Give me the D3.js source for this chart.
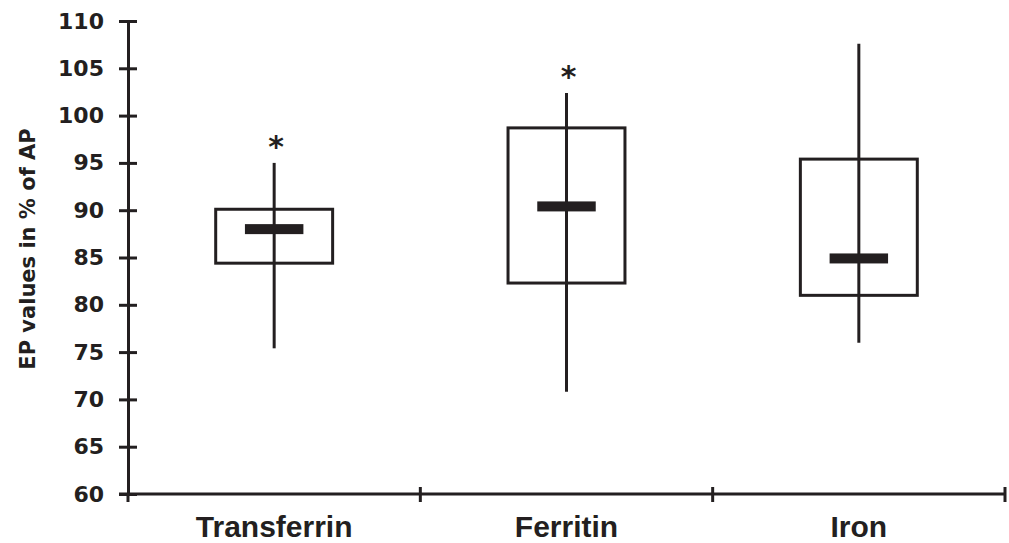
<!DOCTYPE html>
<html>
<head>
<meta charset="utf-8">
<script src="https://cdn.jsdelivr.net/npm/d3@7"></script>
<style>
  body { margin: 0; background: #fff; }
  svg { display: block; }
</style>
</head>
<body>
<main></main>
<script>
  // values
  const categories = ["Transferrin", "Ferritin", "Iron"];
  const whiskerLow = [75.4, 70.8, 76.0];
  const boxLow = [84.4, 82.3, 81.0];
  const medians = [88.0, 90.4, 84.9];
  const boxHigh = [90.1, 98.7, 95.4];
  const whiskerHigh = [95.0, 102.4, 107.6];
  const marked = [true, true, false];
  const yTicks = [60, 65, 70, 75, 80, 85, 90, 95, 100, 105, 110];

  const data = categories.map((c, i) => ({
    name: c,
    lo: whiskerLow[i],
    q1: boxLow[i],
    med: medians[i],
    q3: boxHigh[i],
    hi: whiskerHigh[i],
    star: marked[i]
  }));

  const W = 1009;
  const H = 543;
  const plotLeft = 128, plotTop = 21, plotRight = 1005, plotBottom = 494;
  const ink = "#231f20";

  const svg = d3
    .select("main")
    .append("svg")
    .attr("width", W)
    .attr("height", H);

  const xScale = d3
    .scaleBand()
    .domain(categories)
    .range([plotLeft, plotRight])
    .padding(0);

  const yScale = d3
    .scaleLinear()
    .domain([60, 110])
    .range([plotBottom, plotTop]);

  // y axis, ticks crossing the line
  const yAxis = svg
    .append("g")
    .attr("transform", `translate(${plotLeft},0)`)
    .call(
      d3.axisLeft(yScale)
        .tickValues(yTicks)
        .tickSize(9)
        .tickSizeOuter(0)
        .tickPadding(15)
    );
  yAxis.select(".domain").attr("stroke", ink).attr("stroke-width", 3);
  yAxis.selectAll(".tick line").attr("x1", 9).attr("stroke", ink).attr("stroke-width", 3);
  yAxis
    .selectAll(".tick text")
    .attr("fill", ink)
    .style("font-family", "'DejaVu Sans', Verdana, sans-serif")
    .style("font-weight", "bold")
    .style("font-size", "22px");

  // x axis line
  svg
    .append("line")
    .attr("x1", plotLeft - 9)
    .attr("x2", plotRight)
    .attr("y1", plotBottom)
    .attr("y2", plotBottom)
    .attr("stroke", ink)
    .attr("stroke-width", 3);

  // x ticks at band edges
  const edges = categories.map(c => xScale(c)).concat([xScale.range()[1]]);
  svg
    .selectAll(".xtick")
    .data(edges)
    .enter()
    .append("line")
    .attr("class", "xtick")
    .attr("x1", d => d)
    .attr("x2", d => d)
    .attr("y1", (d, i) => (i === 0 ? plotBottom - 1 : plotBottom - 7))
    .attr("y2", plotBottom + 8)
    .attr("stroke", ink)
    .attr("stroke-width", 3);

  // category labels
  svg
    .selectAll(".xlabel")
    .data(categories)
    .enter()
    .append("text")
    .attr("class", "xlabel")
    .attr("x", d => xScale(d) + xScale.bandwidth() / 2)
    .attr("y", 537)
    .attr("text-anchor", "middle")
    .attr("fill", ink)
    .style("font-family", "'Liberation Sans', Arial, sans-serif")
    .style("font-weight", "bold")
    .style("font-size", "30px")
    .text(d => d);

  // y axis title
  svg
    .append("text")
    .attr("transform", "translate(35,249) rotate(-90)")
    .attr("text-anchor", "middle")
    .attr("fill", ink)
    .style("font-family", "'DejaVu Sans', Verdana, sans-serif")
    .style("font-weight", "bold")
    .style("font-size", "21px")
    .text("EP values in % of AP");

  const bw = xScale.bandwidth();
  const cx = d => xScale(d.name) + bw / 2;

  const boxes = svg
    .selectAll(".box")
    .data(data)
    .enter()
    .append("g")
    .attr("class", "box");

  // boxes
  boxes
    .append("rect")
    .attr("x", d => cx(d) - bw * 0.2)
    .attr("y", d => yScale(d.q3))
    .attr("width", bw * 0.4)
    .attr("height", d => yScale(d.q1) - yScale(d.q3))
    .attr("fill", "none")
    .attr("stroke", ink)
    .attr("stroke-width", 3);

  // whiskers
  boxes
    .append("line")
    .attr("x1", cx)
    .attr("x2", cx)
    .attr("y1", d => yScale(d.hi))
    .attr("y2", d => yScale(d.lo))
    .attr("stroke", ink)
    .attr("stroke-width", 3);

  // median bars
  boxes
    .append("rect")
    .attr("x", d => cx(d) - bw * 0.1)
    .attr("y", d => yScale(d.med) - 5)
    .attr("width", bw * 0.2)
    .attr("height", 10)
    .attr("fill", ink);

  // significance stars
  boxes
    .filter(d => d.star)
    .append("text")
    .attr("x", d => cx(d) + 2)
    .attr("y", d => yScale(d.hi) - 6)
    .attr("text-anchor", "middle")
    .attr("fill", ink)
    .style("font-family", "'DejaVu Sans', Verdana, sans-serif")
    .style("font-weight", "bold")
    .style("font-size", "30px")
    .text("*");
</script>
</body>
</html>
